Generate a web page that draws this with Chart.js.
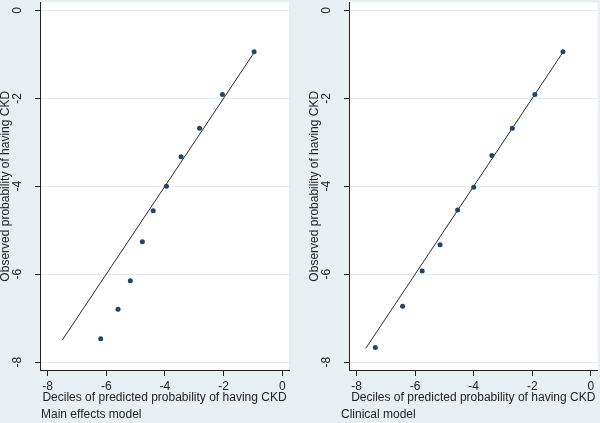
<!DOCTYPE html>
<html>
<head>
<meta charset="utf-8">
<script src="https://cdn.jsdelivr.net/npm/chart.js@4/dist/chart.umd.min.js"></script>
<style>
  html, body { margin: 0; padding: 0; background: #e8eff2; }
  #wrap { width: 600px; height: 423px; display: flex; }
  .panel { width: 300px; height: 423px; position: relative; }
</style>
</head>
<body>
<div id="wrap">
  <div class="panel"><canvas id="mainChart"></canvas></div>
  <div class="panel"><canvas id="clinChart"></canvas></div>
</div>
<script>
// tick labels (both axes)
const xTicks = [-8, -6, -4, -2, 0];
const yTicks = [-8, -6, -4, -2, 0];

// main effects model: deciles
const mainPred = [-0.96, -2.04, -2.82, -3.45, -3.95, -4.40, -4.77, -5.18, -5.60, -6.19];
const mainObs = [-0.94, -1.91, -2.68, -3.33, -4.00, -4.56, -5.26, -6.15, -6.80, -7.47];
const mainFitX = [-7.50, -0.95];
const mainFitY = [-7.50, -0.95];

// clinical model: deciles
const clinPred = [-0.95, -1.91, -2.68, -3.38, -4.00, -4.55, -5.15, -5.76, -6.43, -7.36];
const clinObs = [-0.94, -1.91, -2.68, -3.30, -4.02, -4.54, -5.33, -5.93, -6.73, -7.67];
const clinFitX = [-7.69, -0.95];
const clinFitY = [-7.69, -0.95];

const xTitle = "Deciles of predicted probability of having CKD";
const yTitle = "Observed probability of having CKD";

const font = { family: "'Liberation Sans', Arial, sans-serif", size: 12 };
const txtColor = "#222";

// white plot region + note under the axis title
const panelPlugin = {
  id: "panel",
  beforeDraw(chart) {
    const a = chart.chartArea;
    const ctx = chart.ctx;
    ctx.save();
    ctx.fillStyle = "#ffffff";
    ctx.fillRect(a.left, a.top, a.right - a.left, a.bottom - a.top);
    ctx.restore();
  },
  afterDraw(chart) {
    const ctx = chart.ctx;
    ctx.save();
    ctx.font = "12px " + font.family;
    ctx.fillStyle = txtColor;
    ctx.textBaseline = "middle";
    ctx.fillText(chart.options.plugins.panel.note, 41, 415);
    ctx.restore();
  }
};

function makeChart(id, px, py, fx, fy, note, padLeft, padRight) {
  const points = px.map((v, i) => ({ x: v, y: py[i] }));
  const fit = fx.map((v, i) => ({ x: v, y: fy[i] }));
  return new Chart(document.getElementById(id), {
    type: "scatter",
    data: {
      datasets: [
        {
          data: points,
          backgroundColor: "#1a476f",
          borderColor: "#1a476f",
          pointRadius: 2.5,
          pointHoverRadius: 2.5,
          borderWidth: 0,
        },
        {
          data: fit,
          showLine: true,
          borderColor: "#2a2a2a",
          borderWidth: 1,
          pointRadius: 0,
          fill: false,
        },
      ],
    },
    options: {
      responsive: false,
      animation: false,
      events: [],
      layout: { padding: { left: padLeft, right: padRight, top: 0, bottom: 0 } },
      plugins: {
        legend: { display: false },
        tooltip: { enabled: false },
        panel: { note: note },
      },
      scales: {
        x: {
          type: "linear",
          min: -8.26,
          max: 0.23,
          afterBuildTicks: (s) => { s.ticks = xTicks.map((v) => ({ value: v })); },
          afterFit: (s) => { s.height = 53; s.paddingLeft = 0; s.paddingRight = 0; },
          border: { color: "#222", width: 1 },
          grid: { drawOnChartArea: false, drawTicks: true, tickLength: 6, tickColor: "#222" },
          ticks: { color: txtColor, font: font, padding: 3, maxRotation: 0 },
          title: { display: true, text: xTitle, color: txtColor, font: font, padding: { top: 0, bottom: 18 } },
        },
        y: {
          type: "linear",
          min: -8.18,
          max: 0.18,
          afterBuildTicks: (s) => { s.ticks = yTicks.map((v) => ({ value: v })); },
          afterFit: (s) => { s.width = 40; s.paddingTop = 0; s.paddingBottom = 0; },
          border: { color: "#222", width: 1 },
          grid: { color: "#e6edf0", lineWidth: 1, drawTicks: true, tickLength: 5, tickColor: "#222" },
          ticks: { color: txtColor, font: font, padding: 12, minRotation: 90, maxRotation: 90, crossAlign: "center" },
          title: { display: true, text: yTitle, color: txtColor, font: { family: font.family, size: 12, lineHeight: 1 }, padding: { top: 0, bottom: 0 } },
        },
      },
    },
    plugins: [panelPlugin],
  });
}

for (const c of document.querySelectorAll("canvas")) { c.width = 300; c.height = 423; }
makeChart("mainChart", mainPred, mainObs, mainFitX, mainFitY, "Main effects model", 0, 11);
makeChart("clinChart", clinPred, clinObs, clinFitX, clinFitY, "Clinical model", 9, 2);
</script>
</body>
</html>
